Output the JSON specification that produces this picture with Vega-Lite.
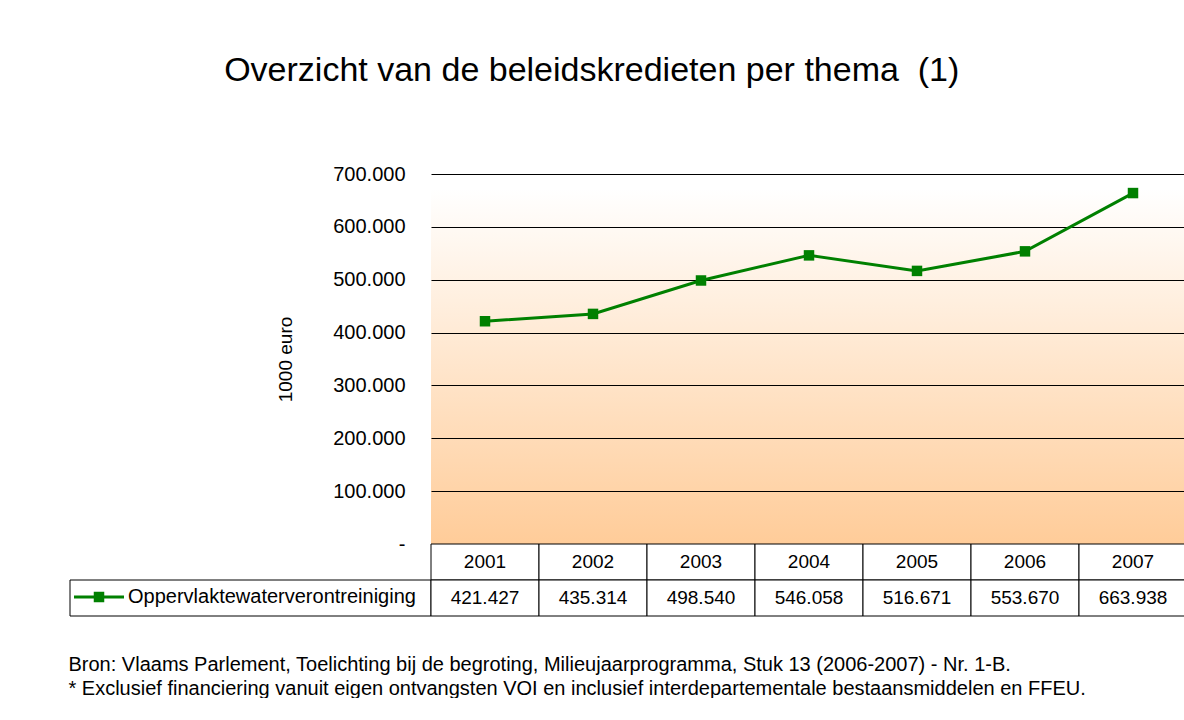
{
  "$schema": "https://vega.github.io/schema/vega-lite/v6.json",
  "padding": {"left": 68, "top": 54, "right": 0, "bottom": 0},
  "background": "#ffffff",
  "config": {
    "font": "Liberation Sans",
    "view": {"stroke": null},
    "locale": {"number": {"decimal": ",", "thousands": ".", "grouping": [3], "currency": ["€", ""]}}
  },
  "title": {
    "text": "Overzicht van de beleidskredieten per thema \u00a0(1)",
    "fontSize": 34,
    "fontWeight": "normal",
    "font": "Liberation Sans",
    "color": "#000000",
    "anchor": "middle",
    "dx": -36,
    "offset": 76
  },
  "datasets": {
    "credits": [
      {"year": "2001", "value": 421427},
      {"year": "2002", "value": 435314},
      {"year": "2003", "value": 498540},
      {"year": "2004", "value": 546058},
      {"year": "2005", "value": 516671},
      {"year": "2006", "value": 553670},
      {"year": "2007", "value": 663938}
    ],
    "series": [{"series": "Oppervlaktewaterverontreiniging"}]
  },
  "columns": 2,
  "spacing": 0,
  "bounds": "flush",
  "concat": [
    {
      "width": 361,
      "height": 370,
      "data": {"values": []},
      "mark": "point",
      "encoding": {}
    },
    {
      "width": 756,
      "height": 370,
      "data": {"name": "credits"},
      "view": {
        "fill": {
          "gradient": "linear",
          "x1": 0, "y1": 0, "x2": 0, "y2": 1,
          "stops": [
            {"offset": 0, "color": "#ffffff"},
            {"offset": 0.04, "color": "#ffffff"},
            {"offset": 1, "color": "#ffcc99"}
          ]
        },
        "stroke": null
      },
      "mark": {
        "type": "line",
        "color": "#008000",
        "strokeWidth": 3,
        "point": {"shape": "square", "size": 110, "filled": true, "color": "#008000", "opacity": 1}
      },
      "encoding": {
        "x": {"field": "year", "type": "ordinal", "scale": {"type": "point", "padding": 0.5}, "axis": null},
        "y": {
          "field": "value",
          "type": "quantitative",
          "scale": {"domain": [0, 700000], "nice": false, "zero": true},
          "axis": {
            "values": [0, 100000, 200000, 300000, 400000, 500000, 600000, 700000],
            "format": ",d",
            "labelExpr": "datum.value == 0 ? '-' : datum.label",
            "title": "1000 euro",
            "grid": true,
            "gridColor": "#000000",
            "gridOpacity": 1,
            "gridWidth": 1,
            "domain": false,
            "ticks": false,
            "labelFontSize": 20,
            "labelColor": "#000000",
            "labelPadding": 26,
            "titleFontSize": 19,
            "titleFontWeight": "normal",
            "titleColor": "#000000",
            "titlePadding": 37
          }
        }
      }
    },
    {
      "width": 361,
      "height": 72,
      "data": {"name": "series"},
      "layer": [
        {
          "mark": {"type": "rect", "fill": "#ffffff", "stroke": "#000000", "strokeWidth": 1},
          "encoding": {
            "y": {"datum": "value", "type": "nominal", "scale": {"domain": ["year", "value"], "paddingInner": 0, "paddingOuter": 0}, "axis": null}
          }
        },
        {
          "mark": {"type": "point", "filled": true, "opacity": 0},
          "encoding": {
            "x": {
              "field": "series",
              "type": "nominal",
              "axis": {
                "title": [
                  "Bron: Vlaams Parlement, Toelichting bij de begroting, Milieujaarprogramma, Stuk 13 (2006-2007) - Nr. 1-B.",
                  "* Exclusief financiering vanuit eigen ontvangsten VOI en inclusief interdepartementale bestaansmiddelen en FFEU."
                ],
                "labels": false,
                "ticks": false,
                "domain": false,
                "grid": false,
                "titleAnchor": "start",
                "titleAlign": "left",
                "titleFontSize": 20,
                "titleFontWeight": "normal",
                "titleColor": "#000000",
                "titleLineHeight": 24,
                "titlePadding": 38,
                "titleX": -2
              }
            },
            "color": {
              "field": "series",
              "type": "nominal",
              "scale": {"range": ["#008000"]},
              "legend": {
                "orient": "none",
                "legendX": 4,
                "legendY": 398,
                "title": null,
                "padding": 0,
                "symbolType": "M-1,-0.06L1,-0.06L1,0.06L-1,0.06Z M-0.21,-0.21L0.21,-0.21L0.21,0.21L-0.21,0.21Z",
                "symbolSize": 2500,
                "symbolOpacity": 1,
                "symbolStrokeWidth": 0,
                "symbolFillColor": "#008000",
                "labelFontSize": 20,
                "labelColor": "#000000",
                "labelOffset": 4,
                "labelLimit": 400
              }
            }
          }
        }
      ]
    },
    {
      "width": 756,
      "height": 72,
      "data": {"name": "credits"},
      "encoding": {
        "x": {"field": "year", "type": "ordinal", "scale": {"type": "band", "paddingInner": 0, "paddingOuter": 0}, "axis": null}
      },
      "layer": [
        {
          "mark": {"type": "rect", "fill": "#ffffff", "stroke": "#000000", "strokeWidth": 1},
          "encoding": {
            "y": {"datum": "year", "type": "nominal", "scale": {"domain": ["year", "value"], "paddingInner": 0, "paddingOuter": 0}, "axis": null}
          }
        },
        {
          "mark": {"type": "rect", "fill": "#ffffff", "stroke": "#000000", "strokeWidth": 1},
          "encoding": {
            "y": {"datum": "value", "type": "nominal"}
          }
        },
        {
          "mark": {"type": "text", "fontSize": 19, "color": "#000000"},
          "encoding": {
            "y": {"datum": "year", "type": "nominal"},
            "text": {"field": "year", "type": "nominal"}
          }
        },
        {
          "mark": {"type": "text", "fontSize": 19, "color": "#000000"},
          "encoding": {
            "y": {"datum": "value", "type": "nominal"},
            "text": {"field": "value", "type": "quantitative", "format": ",d"}
          }
        }
      ]
    }
  ]
}
